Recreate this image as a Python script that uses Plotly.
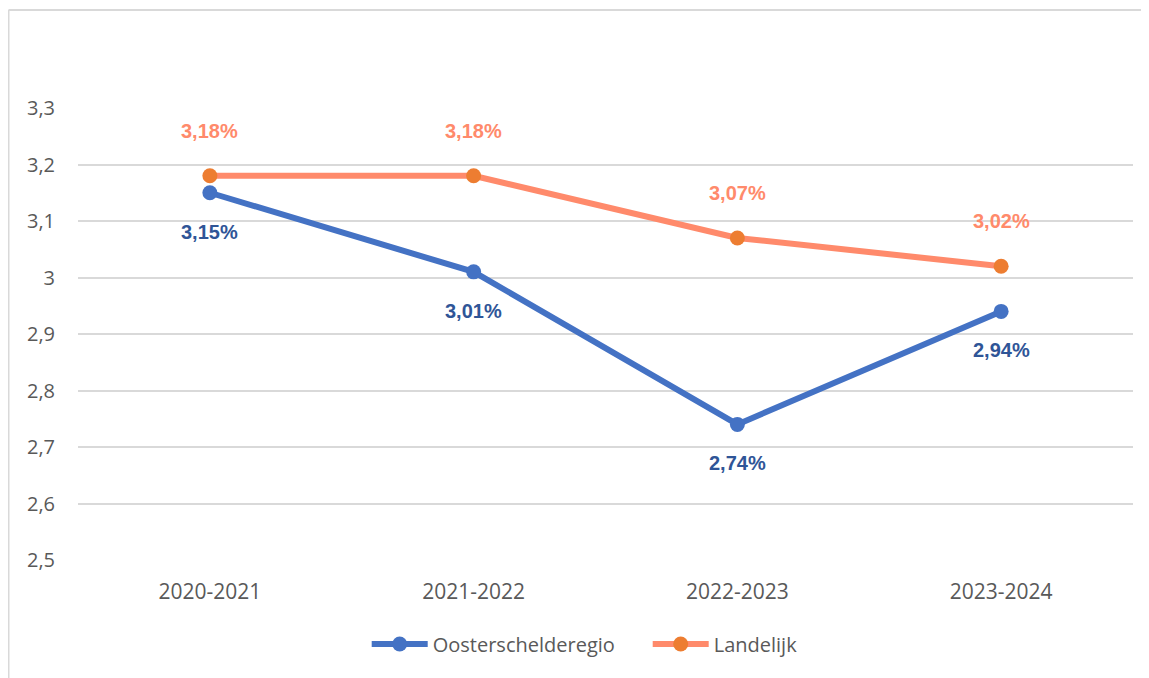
import plotly.graph_objects as go

categories = ["2020-2021", "2021-2022", "2022-2023", "2023-2024"]
oosterschelde = [3.15, 3.01, 2.74, 2.94]
landelijk = [3.18, 3.18, 3.07, 3.02]
series_names = ["Oosterschelderegio", "Landelijk"]
y_tickvals = [2.5, 2.6, 2.7, 2.8, 2.9, 3.0, 3.1, 3.2, 3.3]
y_ticktext = ["2,5", "2,6", "2,7", "2,8", "2,9", "3", "3,1", "3,2", "3,3"]

BLUE_LINE = "#4472C4"
BLUE_LABEL = "#2F5597"
ORANGE_LINE = "#FF8A6B"
ORANGE_MARK = "#ED7D31"
ORANGE_LABEL = "#FF8A6B"

def fmt(v):
    return f"{v:.2f}".replace(".", ",") + "%"

fig = go.Figure()
fig.add_trace(go.Scatter(
    x=categories, y=oosterschelde, name=series_names[0], mode="lines+markers",
    line=dict(color=BLUE_LINE, width=6), marker=dict(color=BLUE_LINE, size=15),
    cliponaxis=False))
fig.add_trace(go.Scatter(
    x=categories, y=landelijk, name=series_names[1], mode="lines+markers",
    line=dict(color=ORANGE_LINE, width=6), marker=dict(color=ORANGE_MARK, size=15),
    cliponaxis=False))

LABEL_FONT = "Liberation Sans, Arial"
for c, v in zip(categories, oosterschelde):
    fig.add_annotation(x=c, y=v, text=fmt(v), showarrow=False, yshift=-39,
                       font=dict(family=LABEL_FONT, size=20, color=BLUE_LABEL, weight="bold"))
for c, v in zip(categories, landelijk):
    fig.add_annotation(x=c, y=v, text=fmt(v), showarrow=False, yshift=45,
                       font=dict(family=LABEL_FONT, size=20, color=ORANGE_LABEL, weight="bold"))

# page offset ~8px; figure coordinates
ML, MR, MT, MB = 70, 16, 100, 118
FW, FH = 1141, 670
W = FW - ML - MR
H = FH - MT - MB
top_y = (H + MT - 2) / H  # frame ~2px below figure top
left_x = -(ML - 0.5) / W
fig.add_shape(type="line", xref="paper", yref="paper", x0=left_x, x1=(FW - ML + 20) / W,
              y0=top_y, y1=top_y, line=dict(color="#D9D9D9", width=2))
fig.add_shape(type="line", xref="paper", yref="paper", x0=left_x, x1=left_x,
              y0=top_y, y1=-(MB + 20) / H, line=dict(color="#D9D9D9", width=2))

fig.update_layout(
    width=FW, height=FH,
    margin=dict(l=ML, r=MR, t=MT, b=MB),
    paper_bgcolor="white", plot_bgcolor="white",
    font=dict(family="Open Sans, Liberation Sans, Arial", size=20, color="#595959"),
    showlegend=True,
    legend=dict(orientation="h", x=0.540, xanchor="center", y=-(644 - 560) / H, yanchor="middle",
                font=dict(size=20, color="#595959"), itemwidth=56, entrywidth=210),
    xaxis=dict(range=[-0.5, 3.5], showgrid=False, zeroline=False, showline=False,
               ticks="", ticklabelstandoff=17, tickfont=dict(size=21, color="#595959")),
    yaxis=dict(range=[2.5, 3.3], tickvals=y_tickvals, ticktext=y_ticktext,
               showgrid=True, gridcolor="#D9D9D9", gridwidth=2, zeroline=False,
               showline=False, ticks="", ticklabelstandoff=22,
               tickfont=dict(size=20, color="#595959")),
)

fig.write_html("out.html")
